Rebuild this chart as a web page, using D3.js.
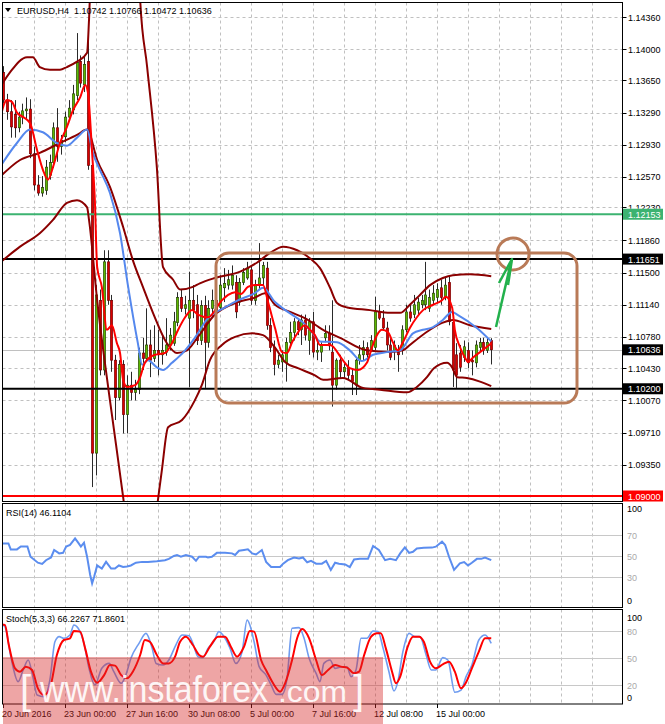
<!DOCTYPE html>
<html lang="en">
<head>
<meta charset="UTF-8">
<script src="https://cdn.jsdelivr.net/npm/d3@7"></script>
<title>EURUSD H4</title>
<style>
  body { margin: 0; background: #fff; }
  svg { display: block; font-family: "Liberation Sans", Arial, sans-serif; }
  .lbl { font-size: 9px; fill: #000; }
</style>
</head>
<body>
<div id="chart"></div>
<script>
// ---- candles (H4, bar 0 = 20 Jun 2016) ----
const candleOpen = [
  1.1374,1.1343,1.1330,1.1327,1.1312,1.1324,1.1331,1.1333,1.1283,1.1248,
  1.1239,1.1242,1.1259,1.1273,1.1312,1.1291,1.1302,1.1324,1.1332,1.1348,
  1.1386,1.1360,1.1386,1.1270,1.0948,1.1119,1.1041,1.1162,1.1119,1.1052,
  1.1010,1.1047,1.0991,1.1024,1.1016,1.1019,1.1060,1.1054,1.1069,1.1054,
  1.1063,1.1058,1.1061,1.1069,1.1071,1.1094,1.1122,1.1110,1.1099,1.1119,
  1.1114,1.1074,1.1113,1.1072,1.1110,1.1119,1.1111,1.1133,1.1136,1.1136,
  1.1139,1.1117,1.1139,1.1144,1.1153,1.1119,1.1136,1.1144,1.1155,1.1091,
  1.1066,1.1047,1.1050,1.1049,1.1072,1.1083,1.1095,1.1086,1.1097,1.1074,
  1.1095,1.1061,1.1061,1.1077,1.1082,1.1061,1.1024,1.1052,1.1039,1.1044,
  1.1035,1.1024,1.1052,1.1058,1.1066,1.1063,1.1066,1.1106,1.1099,1.1088,
  1.1069,1.1063,1.1061,1.1063,1.1086,1.1106,1.1103,1.1108,1.1114,1.1114,
  1.1110,1.1119,1.1122,1.1133,1.1122,1.1139,1.1094,1.1058,1.1060,1.1055,
  1.1063,1.1052,1.1049,1.1066,1.1072,1.1063,1.10742];
const candleHigh = [
  1.1381,1.1350,1.1343,1.1343,1.1330,1.1339,1.1346,1.1344,1.1291,1.1259,
  1.1258,1.1276,1.1282,1.1318,1.1334,1.1304,1.1330,1.1343,1.1360,1.1418,
  1.1393,1.1392,1.1425,1.1287,1.1136,1.1131,1.1175,1.1175,1.1125,1.1058,
  1.1052,1.1052,1.1035,1.1039,1.1030,1.1066,1.1077,1.1110,1.1086,1.1091,
  1.1086,1.1080,1.1099,1.1088,1.1106,1.1128,1.1131,1.1124,1.1151,1.1136,
  1.1125,1.1119,1.1124,1.1119,1.1131,1.1131,1.1147,1.1155,1.1153,1.1158,
  1.1147,1.1144,1.1155,1.1162,1.1158,1.1142,1.1183,1.1162,1.1162,1.1099,
  1.1074,1.1058,1.1063,1.1077,1.1095,1.1099,1.1099,1.1103,1.1103,1.1099,
  1.1106,1.1074,1.1072,1.1091,1.1091,1.1119,1.1054,1.1058,1.1050,1.1052,
  1.1043,1.1054,1.1069,1.1074,1.1072,1.1080,1.1123,1.1114,1.1108,1.1095,
  1.1077,1.1074,1.1069,1.1091,1.1114,1.1114,1.1125,1.1122,1.1125,1.1162,
  1.1131,1.1136,1.1138,1.1142,1.1145,1.1147,1.1099,1.1071,1.1069,1.1074,
  1.1072,1.1063,1.1074,1.1077,1.1077,1.1077,1.10766];
const candleLow = [
  1.1339,1.1321,1.1301,1.1301,1.1307,1.1316,1.1321,1.1278,1.1242,1.1236,
  1.1235,1.1237,1.1254,1.1267,1.1274,1.1282,1.1296,1.1321,1.1327,1.1343,
  1.1357,1.1352,1.1265,1.0910,1.0923,1.1035,1.1035,1.1114,1.1039,1.0985,
  1.1007,1.0970,1.0970,1.1007,1.1007,1.1014,1.1041,1.1050,1.1033,1.1050,
  1.1035,1.1047,1.1057,1.1063,1.1068,1.1090,1.1106,1.1103,1.1022,1.1099,
  1.1069,1.1069,1.1021,1.1066,1.1099,1.1099,1.1108,1.1117,1.1131,1.1131,
  1.1099,1.1113,1.1136,1.1142,1.1114,1.1114,1.1131,1.1136,1.1086,1.1061,
  1.1035,1.1043,1.1039,1.1028,1.1069,1.1074,1.1080,1.1069,1.1074,1.1058,
  1.1055,1.1052,1.1050,1.1072,1.1063,1.1000,1.1019,1.1032,1.1032,1.1030,
  1.1013,1.1013,1.1047,1.1052,1.1052,1.1061,1.1063,1.1097,1.1086,1.1063,
  1.1052,1.1052,1.1039,1.1058,1.1083,1.1095,1.1099,1.1103,1.1110,1.1108,
  1.1106,1.1114,1.1117,1.1114,1.1119,1.1091,1.1022,1.1021,1.1039,1.1050,
  1.1043,1.1035,1.1044,1.1061,1.1058,1.1060,1.10472];
const candleClose = [
  1.1343,1.1330,1.1313,1.1312,1.1324,1.1331,1.1333,1.1283,1.1248,1.1239,
  1.1245,1.1268,1.1273,1.1312,1.1291,1.1298,1.1324,1.1334,1.1350,1.1385,
  1.1362,1.1383,1.1270,1.0948,1.1125,1.1041,1.1162,1.1119,1.1052,1.1010,
  1.1047,1.0991,1.1024,1.1016,1.1019,1.1060,1.1054,1.1069,1.1052,1.1063,
  1.1058,1.1063,1.1069,1.1080,1.1095,1.1122,1.1110,1.1114,1.1119,1.1108,
  1.1074,1.1113,1.1072,1.1110,1.1119,1.1106,1.1136,1.1138,1.1142,1.1147,
  1.1106,1.1139,1.1150,1.1155,1.1119,1.1136,1.1144,1.1158,1.1091,1.1066,
  1.1047,1.1052,1.1058,1.1072,1.1083,1.1095,1.1086,1.1097,1.1080,1.1095,
  1.1061,1.1063,1.1069,1.1082,1.1068,1.1024,1.1052,1.1039,1.1044,1.1035,
  1.1028,1.1052,1.1058,1.1066,1.1058,1.1074,1.1106,1.1099,1.1088,1.1069,
  1.1055,1.1069,1.1058,1.1086,1.1106,1.1099,1.1114,1.1117,1.1119,1.1125,
  1.1122,1.1127,1.1131,1.1122,1.1136,1.1095,1.1041,1.1035,1.1044,1.1067,
  1.1049,1.1050,1.1069,1.1072,1.1063,1.1072,1.10636];

// ---- indicator lines: [bar index, value] ----
const maFast = [[-0.8,1.1321],[1.0,1.1343],[2.3,1.1341],[3.6,1.1329],[5.2,1.1324],[7.0,1.1317],[8.8,1.1287],[10.3,1.1265],[11.6,1.1254],[12.9,1.1268],[14.7,1.1295],[16.5,1.1313],[18.1,1.1332],[19.9,1.1346],[21.2,1.1360],[21.9,1.1352],[23.0,1.1284],[23.7,1.1231],[24.3,1.1156],[25.5,1.1134],[26.8,1.1086],[28.1,1.1091],[29.4,1.1071],[30.2,1.1060],[31.0,1.1030],[32.0,1.1022],[34.1,1.1024],[35.4,1.1033],[36.6,1.1049],[39.2,1.1058],[41.8,1.1060],[43.6,1.1071],[45.2,1.1086],[47.0,1.1100],[48.8,1.1108],[50.3,1.1103],[52.9,1.1100],[56.5,1.1119],[58.1,1.1125],[59.9,1.1128],[61.4,1.1126],[63.2,1.1134],[65.0,1.1136],[67.1,1.1136],[68.4,1.1117],[70.2,1.1088],[72.0,1.1061],[73.3,1.1060],[74.6,1.1072],[76.1,1.1083],[77.9,1.1091],[79.2,1.1086],[80.5,1.1080],[81.8,1.1069],[84.4,1.1069],[87.7,1.1052],[89.5,1.1043],[91.6,1.1041],[93.9,1.1049],[95.2,1.1066],[96.5,1.1080],[97.8,1.1086],[99.4,1.1083],[100.6,1.1072],[101.9,1.1063],[103.2,1.1072],[105.0,1.1088],[106.8,1.1100],[108.4,1.1108],[111.0,1.1114],[113.3,1.1119],[114.3,1.1123],[115.9,1.1111],[116.6,1.1086],[117.9,1.1067],[119.2,1.1055],[120.0,1.1050],[121.3,1.1055],[123.1,1.1061],[124.9,1.1067],[126,1.1071]];
const maSlow = [[-0.8,1.1268],[3.6,1.1295],[7.0,1.1310],[10.3,1.1307],[13.9,1.1295],[16.5,1.1292],[19.1,1.1301],[21.7,1.1310],[23.2,1.1284],[25.0,1.1265],[27.6,1.1239],[30.2,1.1194],[32.3,1.1134],[34.8,1.1071],[35.9,1.1047],[37.4,1.1052],[39.7,1.1044],[41.3,1.1041],[43.6,1.1049],[47.0,1.1063],[49.5,1.1077],[52.9,1.1099],[57.3,1.1111],[60.6,1.1119],[65.0,1.1127],[67.1,1.1133],[70.2,1.1117],[73.5,1.1106],[77.2,1.1095],[80.0,1.1082],[81.8,1.1073],[86.2,1.1072],[89.5,1.1063],[92.6,1.1051],[95.5,1.1058],[99.1,1.1061],[102.5,1.1063],[105.8,1.1082],[108.4,1.1086],[111.0,1.1089],[113.5,1.1097],[115.9,1.1106],[117.2,1.1103],[122.3,1.1088],[126,1.1073]];
const bandUpper = [[-0.8,1.1357],[1.8,1.1374],[6.2,1.1391],[7.7,1.1391],[9.5,1.1380],[12.1,1.1377],[14.7,1.1377],[16.5,1.1380],[19.1,1.1386],[21.7,1.1396],[22.2,1.1433],[23.0,1.1522],[26.0,1.1650],[31.0,1.1680],[34.5,1.1560],[35.4,1.1455],[37.2,1.1380],[39.7,1.1268],[41.3,1.1156],[43.9,1.1142],[45.7,1.1131],[49.0,1.1134],[50.8,1.1138],[54.7,1.1144],[61.2,1.1151],[65.5,1.1161],[68.9,1.1172],[72.3,1.1179],[75.9,1.1175],[79.2,1.1166],[81.8,1.1155],[84.4,1.1133],[86.2,1.1116],[88.8,1.1111],[94.7,1.1108],[99.9,1.1105],[102.5,1.1105],[105.0,1.1114],[107.6,1.1125],[110.2,1.1136],[113.5,1.1144],[116.1,1.1147],[120.5,1.1148],[126,1.1146]];
const bandMiddle = [[-0.8,1.1257],[4.4,1.1276],[9.5,1.1284],[14.7,1.1295],[19.1,1.1304],[21.7,1.1310],[24.3,1.1276],[27.6,1.1246],[31.0,1.1201],[33.5,1.1164],[36.1,1.1134],[38.7,1.1105],[42.3,1.1071],[44.9,1.1060],[47.5,1.1063],[50.3,1.1078],[54.7,1.1103],[59.9,1.1116],[65.0,1.1122],[67.6,1.1127],[70.2,1.1114],[74.1,1.1106],[77.9,1.1099],[82.6,1.1086],[87.0,1.1077],[93.9,1.1063],[99.9,1.1061],[103.2,1.1063],[105.0,1.1069],[107.6,1.1078],[110.2,1.1086],[113.5,1.1094],[116.1,1.1097],[120.5,1.1091],[126,1.1087]];
const bandLower = [[-0.8,1.1161],[4.4,1.1179],[9.5,1.1194],[12.9,1.1209],[16.5,1.1228],[19.1,1.1231],[21.7,1.1223],[22.2,1.1209],[24.3,1.1119],[27.6,1.1007],[31.0,1.0899],[33.0,1.0830],[37.0,1.0800],[40.0,1.0896],[41.0,1.0929],[42.6,1.0977],[46.2,1.0985],[49.5,1.1007],[51.3,1.1024],[53.4,1.1052],[56.5,1.1069],[59.9,1.1078],[64.3,1.1082],[67.1,1.1080],[70.2,1.1066],[72.8,1.1050],[76.1,1.1043],[80.5,1.1035],[82.6,1.1030],[87.7,1.1032],[92.9,1.1021],[97.3,1.1019],[104.3,1.1016],[106.8,1.1022],[109.4,1.1033],[111.2,1.1043],[114.6,1.1049],[115.9,1.1044],[117.2,1.1033],[119.7,1.1032],[123.1,1.1028],[126,1.1023]];

const rsiLine = [[-0.8,62],[1.4,62],[2.0,56.3],[3.6,56.3],[4.6,59],[6.3,59],[7.1,49.3],[9.0,43.6],[10.1,42.4],[11.1,46],[12.4,48.6],[13.2,55.7],[14.5,52.5],[15.5,53],[16.3,59],[17.3,60.5],[18.6,66.8],[19.4,62.7],[20.1,59],[20.9,62.7],[21.7,49.3],[22.5,31.9],[23.0,24],[23.5,30],[24.3,41],[25.5,38],[26.6,44.4],[27.9,38],[28.9,38],[29.9,41],[31.0,39.5],[32.0,40],[33.0,41],[34.3,43.6],[35.9,44.4],[37.4,44.2],[39.7,45],[41.8,46],[42.8,47.3],[44.1,50],[44.9,51],[45.9,49.3],[47.2,51],[48.8,49.3],[49.8,45.4],[50.6,49.3],[52.4,49.3],[52.9,48.5],[53.9,49.3],[55.2,53],[57.3,53],[59.1,52.5],[59.9,51],[60.9,55],[62.2,55.7],[63.2,56.3],[64.3,52.5],[65.3,51.5],[66.8,55.7],[67.9,44.4],[69.2,39.5],[71.5,39.5],[72.3,42.7],[73.5,46],[75.1,48.6],[76.4,47.6],[77.4,48.6],[78.5,44],[79.5,45.4],[80.8,42.7],[82.3,42.7],[83.4,45.4],[84.6,36.7],[85.7,43.6],[86.7,42.7],[88.3,42],[89.5,39.5],[90.6,46.7],[92.1,47.3],[94.2,47.3],[95.5,59.5],[97.0,55.7],[98.6,46],[99.9,47.3],[101.4,46],[102.5,52.5],[103.7,58.3],[104.8,53],[105.8,54],[106.8,57.2],[108.6,57.8],[110.7,58],[111.7,58.9],[113.3,63.7],[114.1,60.5],[115.1,49.3],[116.4,36.7],[117.9,43],[119.0,44.2],[120.0,41],[121.0,43.6],[122.3,47.3],[123.4,47.3],[124.4,48.6],[126,46.11]];
const stochMain = [[-0.8,88.5],[0.5,84.8],[2.1,49.6],[3.9,23.7],[5.2,36.7],[6.5,47.8],[7.7,29.3],[8.8,8.9],[10.6,7],[12.1,25.6],[13.4,68],[14.5,73.7],[15.7,71.9],[17.3,75.6],[18.3,86.7],[19.4,83],[20.9,66.3],[22.2,38.5],[23.7,20],[25.5,38.5],[27.4,44],[28.6,34.8],[30.5,21.9],[31.7,31],[33.0,49.6],[35.1,66.3],[36.9,77.4],[38.5,60.7],[39.5,44],[41.3,42.2],[42.8,47.8],[44.6,64.4],[46.2,75.6],[48.0,74.8],[49.0,66.3],[50.3,51.5],[51.6,50.4],[52.9,60.7],[54.5,68.9],[55.7,79.3],[57.3,71.9],[58.6,60.7],[60.1,44],[61.7,57],[63.0,92.2],[63.7,86.7],[64.8,68],[66.1,40.4],[67.9,31],[69.2,20],[70.5,9.6],[72.0,9.6],[73.3,27.4],[74.6,83],[76.4,83.7],[77.7,71.9],[79.0,49.6],[80.8,33],[81.8,23.7],[82.8,44],[84.4,47.8],[85.7,38.5],[87.2,40],[88.8,40],[89.8,29.3],[91.1,36.7],[92.4,71.9],[93.9,71.9],[95.5,80],[96.8,79.3],[98.1,60.7],[99.6,34.8],[100.9,13.3],[101.9,23.7],[103.2,57],[104.8,77.4],[106.3,73.7],[107.6,73.7],[109.2,53.3],[110.5,36.7],[111.7,36.7],[113.5,50.4],[114.8,47.8],[116.6,11.9],[118.2,14.4],[119.5,29.3],[121.0,42.2],[122.8,70],[124.4,75.6],[126,66.23]];
const stochSignal = [[-0.8,87.4],[0.5,86.7],[1.5,64.4],[3.1,38.5],[4.4,34.8],[5.9,40.4],[7.5,36.7],[9.0,16.3],[10.6,8.9],[12.1,16.3],[13.9,53.3],[15.7,70],[17.3,71.9],[18.3,80],[19.9,79.3],[21.2,60.7],[22.7,34.8],[24.3,22.6],[26.1,31],[27.6,42.2],[28.9,41.5],[30.5,31],[32.0,27.4],[33.5,34.8],[35.4,53.3],[36.6,70],[37.9,68],[39.7,53.3],[41.3,44],[42.8,44],[44.4,51.5],[45.7,68],[47.2,73.7],[49.0,64.4],[50.6,53.3],[51.6,51.5],[53.4,62.6],[55.5,73.7],[57.3,73.7],[58.8,62.6],[60.4,51.5],[62.2,62.6],[63.7,80],[64.8,79.3],[66.6,47.8],[68.1,34.8],[69.7,21.9],[71.5,12.6],[72.8,21.9],[74.6,47.8],[75.9,71.9],[77.2,82.2],[79.0,71.9],[80.8,47.8],[82.3,31],[83.9,36.7],[85.7,42.2],[87.2,40.4],[88.8,39.3],[90.6,33],[91.9,34.8],[93.2,53.3],[95.0,73.7],[96.5,77.4],[97.5,77.4],[98.8,60.7],[100.4,34.8],[101.4,21.9],[102.5,29.3],[104.3,60.7],[105.8,73.7],[107.4,73.7],[108.6,68],[110.2,45.9],[111.7,38.5],[113.5,43],[115.1,45.9],[116.6,34.8],[118.2,16.3],[119.5,23],[121.0,38.5],[122.8,57],[124.4,71.9],[126,71.86]];

// ---- axes / levels ----
const priceTicks = [1.14360,1.14000,1.13650,1.13290,1.12930,1.12570,1.12230,1.11860,1.11500,1.11140,1.10780,1.10430,1.10070,1.09710,1.09350];
const timeLabels = ["20 Jun 2016","23 Jun 00:00","27 Jun 16:00","30 Jun 08:00","5 Jul 00:00","7 Jul 16:00","12 Jul 08:00","15 Jul 00:00"];
const timeLabelBars = [0,16,32,48,64,80,96,112];
const levelPrices = [1.12153, 1.11651, 1.10200, 1.09000];
const levelColors = ["#3cb371", "#000000", "#000000", "#ff0000"];
const lastPrice = 1.10636;
const rsiLevels = [70, 50, 30];
const stochLevels = [80, 50, 20];

const W = 665, H = 724;
const L = 2.5, R = 622.5;
const mainP = {top: 2.5, bottom: 501.5};
const rsiP = {top: 503.5, bottom: 607.5};
const stP = {top: 609.5, bottom: 704};

const svg = d3.select("#chart").append("svg").attr("width", W).attr("height", H);

const x = d3.scaleLinear().domain([0, 126]).range([3, 491.25]);
const y = d3.scaleLinear().domain([1.09, 1.1436]).range([496, 17]);
const yRsi = d3.scaleLinear().domain([0, 100]).range([608.5, 503.5]);
const ySt = d3.scaleLinear().domain([0, 100]).range([703, 613]);
const fmt = d3.format(".5f");

const defs = svg.append("defs");
[["clipMain", mainP], ["clipRsi", rsiP], ["clipSt", stP]].forEach(([id, p]) => {
  defs.append("clipPath").attr("id", id).append("rect")
    .attr("x", L).attr("y", p.top).attr("width", R - L).attr("height", p.bottom - p.top);
});

// vertical grid every 8 bars in each panel
const vBars = d3.range(8, 160, 8).filter(b => x(b) < R - 2);
[mainP, rsiP, stP].forEach(p => {
  svg.append("g").selectAll("line").data(vBars).join("line")
    .attr("x1", b => Math.round(x(b)) + 0.5).attr("x2", b => Math.round(x(b)) + 0.5)
    .attr("y1", p.top).attr("y2", p.bottom)
    .attr("stroke", "#c0c0c0").attr("stroke-dasharray", "3,3");
});

// horizontal price grid
svg.append("g").selectAll("line").data(priceTicks).join("line")
  .attr("x1", L).attr("x2", R)
  .attr("y1", d => Math.round(y(d)) + 0.5).attr("y2", d => Math.round(y(d)) + 0.5)
  .attr("stroke", "#c0c0c0").attr("stroke-dasharray", "3,3");

// indicator level lines
svg.append("g").selectAll("line").data(rsiLevels).join("line")
  .attr("x1", L).attr("x2", R).attr("y1", d => Math.round(yRsi(d)) + 0.5).attr("y2", d => Math.round(yRsi(d)) + 0.5)
  .attr("stroke", "#c8c8c8");
svg.append("g").selectAll("line").data(stochLevels).join("line")
  .attr("x1", L).attr("x2", R).attr("y1", d => Math.round(ySt(d)) + 0.5).attr("y2", d => Math.round(ySt(d)) + 0.5)
  .attr("stroke", "#c8c8c8");

const plot = svg.append("g").attr("clip-path", "url(#clipMain)");

// current price line
plot.append("line").attr("x1", L).attr("x2", R)
  .attr("y1", Math.round(y(lastPrice)) + 0.5).attr("y2", Math.round(y(lastPrice)) + 0.5)
  .attr("stroke", "#c0c0c0");

// candles
const bars = candleOpen.map((o, i) => ({i, o, h: candleHigh[i], l: candleLow[i], c: candleClose[i]}));
const cg = plot.append("g");
cg.selectAll("line").data(bars).join("line")
  .attr("x1", d => Math.round(x(d.i)) + 0.5).attr("x2", d => Math.round(x(d.i)) + 0.5)
  .attr("y1", d => y(d.h)).attr("y2", d => y(d.l))
  .attr("stroke", "#2a2a2a").attr("stroke-width", 1);
cg.selectAll("rect").data(bars).join("rect")
  .attr("x", d => Math.round(x(d.i)) - 0.7).attr("width", 2.4)
  .attr("y", d => y(Math.max(d.o, d.c)))
  .attr("height", d => Math.max(1, Math.abs(y(d.o) - y(d.c))))
  .attr("fill", d => d.c >= d.o ? "#5cb800" : "#d80000")
  .attr("stroke", d => d.c >= d.o ? "#1f3a00" : "#6a0000").attr("stroke-width", 0.6);

// level lines
plot.append("g").selectAll("line").data(levelPrices).join("line")
  .attr("x1", L).attr("x2", R)
  .attr("y1", d => y(d)).attr("y2", d => y(d))
  .attr("stroke", (d, i) => levelColors[i]).attr("stroke-width", 2);

// indicators
const priceLine = d3.line().x(d => x(d[0])).y(d => y(d[1])).curve(d3.curveMonotoneX);
[[bandUpper, "#8b0000"], [bandMiddle, "#8b0000"], [bandLower, "#8b0000"], [maSlow, "#5588ee"], [maFast, "#ff0000"]]
  .forEach(([data, col]) => {
    plot.append("path").datum(data).attr("d", priceLine)
      .attr("fill", "none").attr("stroke", col).attr("stroke-width", 2).attr("stroke-linejoin", "round");
  });

// annotations
const ann = plot.append("g");
ann.append("rect").attr("x", 216).attr("y", 253).attr("width", 361).attr("height", 150)
  .attr("rx", 13).attr("fill", "none").attr("stroke", "#b97a57").attr("stroke-width", 3);
ann.append("circle").attr("cx", 513).attr("cy", 254).attr("r", 16)
  .attr("fill", "none").attr("stroke", "#b97a57").attr("stroke-width", 3);
ann.append("line").attr("x1", 496).attr("y1", 327).attr("x2", 511).attr("y2", 262)
  .attr("stroke", "#22b14c").attr("stroke-width", 2.5);
ann.append("path").attr("d", "M499,283 L512,259 L508,285")
  .attr("fill", "none").attr("stroke", "#22b14c").attr("stroke-width", 2.5).attr("stroke-linejoin", "round");

// RSI
const rsiG = svg.append("g").attr("clip-path", "url(#clipRsi)");
rsiG.append("path").datum(rsiLine)
  .attr("d", d3.line().x(d => x(d[0])).y(d => yRsi(d[1])))
  .attr("fill", "none").attr("stroke", "#5b8def").attr("stroke-width", 2);

// Stochastic
const stG = svg.append("g").attr("clip-path", "url(#clipSt)");
const stLine = d3.line().x(d => x(d[0])).y(d => ySt(d[1])).curve(d3.curveMonotoneX);
stG.append("path").datum(stochMain).attr("d", stLine)
  .attr("fill", "none").attr("stroke", "#6f9cf0").attr("stroke-width", 1.6);
stG.append("path").datum(stochSignal).attr("d", stLine)
  .attr("fill", "none").attr("stroke", "#ff0000").attr("stroke-width", 2);

// frames
[mainP, rsiP, stP].forEach(p => {
  svg.append("rect").attr("x", L).attr("y", p.top).attr("width", R - L).attr("height", p.bottom - p.top)
    .attr("fill", "none").attr("stroke", "#000");
});

// right price axis (1.12230 sits mostly under the green level box, as in MT4)
const ax = svg.append("g");
defs.append("clipPath").attr("id", "clipAxisHidden").append("rect")
  .attr("x", 623).attr("y", 190).attr("width", 42).attr("height", y(1.12153) - 5.5 - 190);
ax.selectAll("line").data(priceTicks).join("line")
  .attr("x1", R).attr("x2", R + 4).attr("y1", d => Math.round(y(d)) + 0.5).attr("y2", d => Math.round(y(d)) + 0.5)
  .attr("stroke", "#000");
ax.selectAll("text").data(priceTicks).join("text").attr("class", "lbl")
  .attr("x", 628).attr("y", d => y(d) + 3.5)
  .attr("clip-path", d => d === 1.12230 ? "url(#clipAxisHidden)" : null)
  .text(d => fmt(d));

// level labels
const boxes = levelPrices.map((p, i) => ({p, col: levelColors[i]})).concat([{p: lastPrice, col: "#000"}]);
boxes.forEach(b => {
  svg.append("rect").attr("x", 623).attr("y", y(b.p) - 5.5).attr("width", 40).attr("height", 11).attr("fill", b.col);
  svg.append("text").attr("class", "lbl").attr("x", 628).attr("y", y(b.p) + 3.5)
    .style("fill", "#fff").text(fmt(b.p));
});

// indicator axes
const rsiLabels = [[100, "#000"], [70, "#aaa"], [50, "#aaa"], [30, "#aaa"], [0, "#000"]];
rsiLabels.forEach(([v, c]) => {
  const yy = v === 100 ? 512 : v === 0 ? 604 : yRsi(v) + 3.5;
  svg.append("text").attr("class", "lbl").attr("x", 627).attr("y", yy).style("fill", c).text(v);
});
const stLabels = [[100, "#000"], [80, "#aaa"], [50, "#aaa"], [20, "#aaa"], [0, "#000"]];
stLabels.forEach(([v, c]) => {
  const yy = v === 100 ? 621 : v === 0 ? 701 : ySt(v) + 3.5;
  svg.append("text").attr("class", "lbl").attr("x", 627).attr("y", yy).style("fill", c).text(v);
});

// time axis
svg.append("g").selectAll("line").data(timeLabelBars).join("line")
  .attr("x1", b => Math.round(x(b)) + 0.5).attr("x2", b => Math.round(x(b)) + 0.5)
  .attr("y1", stP.bottom).attr("y2", stP.bottom + 4).attr("stroke", "#000");
svg.append("g").selectAll("text").data(timeLabels).join("text").attr("class", "lbl")
  .attr("x", (d, i) => x(timeLabelBars[i]) - 1).attr("y", 717).text(d => d);

// headers
svg.append("path").attr("d", "M5,8 L11,8 L8,12 Z").attr("fill", "#000");
svg.append("text").attr("class", "lbl").attr("x", 17).attr("y", 14).style("white-space", "pre")
  .text("EURUSD,H4  1.10742 1.10766 1.10472 1.10636");
svg.append("text").attr("class", "lbl").attr("x", 6).attr("y", 516).text("RSI(14) 46.1104");
svg.append("text").attr("class", "lbl").attr("x", 6).attr("y", 622).text("Stoch(5,3,3) 66.2267 71.8601");

// watermark
const wm = svg.append("g");
wm.append("rect").attr("x", 3).attr("y", 657).attr("width", 380).attr("height", 67)
  .attr("fill", "rgb(215,40,40)").attr("opacity", 0.42);
const wt = wm.append("g").attr("fill", "#fff").attr("opacity", 0.9);
wt.append("text").attr("x", 20).attr("y", 704).attr("font-size", 40).attr("font-weight", 300).text("[");
wt.append("text").attr("x", 40).attr("y", 702).attr("font-size", 36)
  .attr("textLength", 228).attr("lengthAdjust", "spacingAndGlyphs").text("www.instaforex");
wt.append("text").attr("x", 278).attr("y", 702).attr("font-size", 30)
  .attr("textLength", 69).attr("lengthAdjust", "spacingAndGlyphs").text(".com");
wt.append("text").attr("x", 353).attr("y", 704).attr("font-size", 40).attr("font-weight", 300).text("]");
</script>
</body>
</html>
